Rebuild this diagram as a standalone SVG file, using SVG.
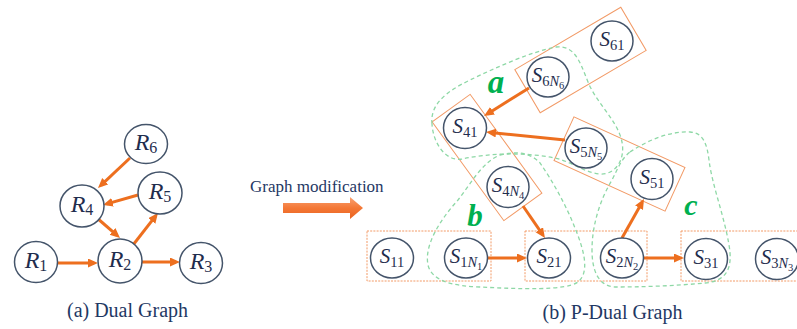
<svg xmlns="http://www.w3.org/2000/svg" width="797" height="329" viewBox="0 0 797 329">
  <style>
    .node { fill: #ffffff; stroke: #44546A; stroke-width: 1.5; }
    .lbl { font-family: 'Liberation Serif', serif; font-style: italic; font-size: 24px; fill: #1F2D4D; text-anchor: middle; }
    .lblS { font-size: 21px; }
    .sub { font-size: 14.5px; }
    .subR { font-size: 16px; }
    .sub2 { font-size: 10.5px; }
    .up { font-style: normal; }
    .edge { stroke: #ED6F1F; stroke-width: 3; fill: none; marker-end: url(#head); }
    .box { fill: none; stroke: #F29A66; stroke-width: 1; }
    .boxd { fill: none; stroke: #F29A66; stroke-width: 1; stroke-dasharray: 2 1.2; }
    .blob { fill: none; stroke: #8ED8A6; stroke-width: 1.3; stroke-dasharray: 4 3; }
    .tag { font-family: 'Liberation Serif', serif; font-style: italic; font-weight: bold; fill: #00B050; text-anchor: middle; }
    .cap { font-family: 'Liberation Serif', serif; font-size: 20px; fill: #1F3864; text-anchor: middle; }
  </style>
  <defs>
    <marker id="head" markerUnits="userSpaceOnUse" markerWidth="11" markerHeight="10" refX="6" refY="4.5" orient="auto">
      <path d="M0,0 L10,4.5 L0,9 Z" fill="#ED6F1F"/>
    </marker>
    <linearGradient id="bigArrow" x1="0" y1="0" x2="0" y2="1">
      <stop offset="0" stop-color="#F9A173"/>
      <stop offset="0.5" stop-color="#F47836"/>
      <stop offset="1" stop-color="#E9621F"/>
    </linearGradient>
  </defs>

  <!-- groupings: orange partition boxes -->
  <g id="partitions">
    <rect class="boxd" x="367" y="231" width="124" height="50"/>
    <rect class="boxd" x="525" y="231" width="122" height="50"/>
    <rect class="boxd" x="681" y="231" width="130" height="50"/>
    <rect class="box" x="-61.5" y="-25" width="123" height="50" transform="translate(580.5 60) rotate(-30.5)"/>
    <rect class="box" x="-61" y="-23.5" width="122" height="47" transform="translate(487 157.5) rotate(54)"/>
    <rect class="box" x="-61" y="-24" width="122" height="48" transform="translate(619.5 164) rotate(24.5)"/>
  </g>

  <!-- green dashed clusters -->
  <g id="clusters">
    <path class="blob" d="M432,124 C430,105 445,92 470,80 C495,68 530,52 556,47 C575,45 580,62 588,82 C596,102 615,118 621,138 C627,158 616,175 600,174 C585,173 575,163 555,158 C525,152 490,153 462,159 C445,162 433,142 432,124 Z"/>
    <path class="blob" d="M500,155 C515,151 530,152 540,163 C552,180 566,205 575,228 C584,250 590,272 578,282 C565,291 520,289 480,287 C455,286 432,282 428,265 C424,245 440,220 458,200 C470,185 482,162 500,155 Z"/>
    <path class="blob" d="M630,152 C648,140 670,131 690,132 C704,133 707,145 709,160 C712,185 724,215 729,245 C733,268 727,281 705,283 C675,286 640,287 615,287 C598,286 592,270 592,250 C592,225 600,200 612,180 C618,168 622,158 630,152 Z"/>
    <text class="tag" x="496" y="93" font-size="33">a</text>
    <text class="tag" x="475" y="226" font-size="31">b</text>
    <text class="tag" x="691" y="215" font-size="30">c</text>
  </g>

  <!-- connectors -->
  <g id="connectors">
    <line class="edge" x1="58" y1="263" x2="94" y2="263"/>
    <line class="edge" x1="142" y1="262" x2="176" y2="262"/>
    <line class="edge" x1="97" y1="218" x2="117" y2="235.4"/>
    <line class="edge" x1="133" y1="245" x2="155.5" y2="216.2"/>
    <line class="edge" x1="138" y1="195" x2="106.8" y2="203.9"/>
    <line class="edge" x1="130" y1="158" x2="100.9" y2="185.3"/>

    <line class="edge" x1="488" y1="258" x2="523" y2="258"/>
    <line class="edge" x1="644" y1="258" x2="680" y2="258"/>
    <line class="edge" x1="523" y1="206" x2="542.7" y2="234.7"/>
    <line class="edge" x1="622" y1="238" x2="642" y2="202.5"/>
    <line class="edge" x1="565" y1="140" x2="490" y2="132.4"/>
    <line class="edge" x1="529" y1="88" x2="487.4" y2="113.9"/>
  </g>

  <!-- (a) dual graph nodes -->
  <g id="R1"><ellipse class="node" cx="36" cy="262" rx="21.5" ry="20.5"/><text class="lbl" x="36" y="268">R<tspan class="subR up" dy="3">1</tspan></text></g>
  <g id="R2"><ellipse class="node" cx="120" cy="261" rx="22" ry="22"/><text class="lbl" x="120" y="267">R<tspan class="subR up" dy="3">2</tspan></text></g>
  <g id="R3"><ellipse class="node" cx="201" cy="263" rx="21.5" ry="20.5"/><text class="lbl" x="201" y="269">R<tspan class="subR up" dy="3">3</tspan></text></g>
  <g id="R4"><ellipse class="node" cx="82" cy="206" rx="22" ry="21"/><text class="lbl" x="82" y="212">R<tspan class="subR up" dy="3">4</tspan></text></g>
  <g id="R5"><ellipse class="node" cx="160" cy="193" rx="22" ry="21"/><text class="lbl" x="160" y="199">R<tspan class="subR up" dy="3">5</tspan></text></g>
  <g id="R6"><ellipse class="node" cx="146" cy="144" rx="21.5" ry="19.5"/><text class="lbl" x="146" y="150">R<tspan class="subR up" dy="3">6</tspan></text></g>

  <!-- (b) P-dual graph nodes -->
  <g id="S11"><ellipse class="node" cx="392" cy="258" rx="21.5" ry="20"/><text class="lbl lblS" x="392" y="263">S<tspan class="sub up" dy="4">11</tspan></text></g>
  <g id="S1N1"><ellipse class="node" cx="466" cy="258" rx="21.5" ry="20"/><text class="lbl lblS" x="466" y="263">S<tspan class="sub up" dy="4">1</tspan><tspan class="sub">N</tspan><tspan class="sub2 up" dy="3">1</tspan></text></g>
  <g id="S21"><ellipse class="node" cx="549" cy="258" rx="21.5" ry="20"/><text class="lbl lblS" x="549" y="263">S<tspan class="sub up" dy="4">21</tspan></text></g>
  <g id="S2N2"><ellipse class="node" cx="622" cy="258" rx="21.5" ry="20"/><text class="lbl lblS" x="622" y="263">S<tspan class="sub up" dy="4">2</tspan><tspan class="sub">N</tspan><tspan class="sub2 up" dy="3">2</tspan></text></g>
  <g id="S31"><ellipse class="node" cx="706" cy="259" rx="21.5" ry="20.5"/><text class="lbl lblS" x="706" y="264">S<tspan class="sub up" dy="4">31</tspan></text></g>
  <g id="S3N3"><ellipse class="node" cx="777" cy="259" rx="21.5" ry="20.5"/><text class="lbl lblS" x="777" y="264">S<tspan class="sub up" dy="4">3</tspan><tspan class="sub">N</tspan><tspan class="sub2 up" dy="3">3</tspan></text></g>
  <g id="S41"><ellipse class="node" cx="465" cy="128" rx="21.5" ry="20.5"/><text class="lbl lblS" x="465" y="133">S<tspan class="sub up" dy="4">41</tspan></text></g>
  <g id="S4N4"><ellipse class="node" cx="508" cy="187" rx="21" ry="20.5"/><text class="lbl lblS" x="508" y="192">S<tspan class="sub up" dy="4">4</tspan><tspan class="sub">N</tspan><tspan class="sub2 up" dy="3">4</tspan></text></g>
  <g id="S5N5"><ellipse class="node" cx="586" cy="148" rx="21" ry="20"/><text class="lbl lblS" x="586" y="153">S<tspan class="sub up" dy="4">5</tspan><tspan class="sub">N</tspan><tspan class="sub2 up" dy="3">5</tspan></text></g>
  <g id="S51"><ellipse class="node" cx="652" cy="179" rx="21" ry="20.5"/><text class="lbl lblS" x="652" y="184">S<tspan class="sub up" dy="4">51</tspan></text></g>
  <g id="S6N6"><ellipse class="node" cx="548" cy="77" rx="21" ry="20"/><text class="lbl lblS" x="548" y="82">S<tspan class="sub up" dy="4">6</tspan><tspan class="sub">N</tspan><tspan class="sub2 up" dy="3">6</tspan></text></g>
  <g id="S61"><ellipse class="node" cx="612" cy="41" rx="21" ry="20"/><text class="lbl lblS" x="612" y="46">S<tspan class="sub up" dy="4">61</tspan></text></g>

  <!-- transformation arrow -->
  <g id="modification">
    <text x="250" y="192" font-family="'Liberation Serif', serif" font-size="17" fill="#1F3864">Graph modification</text>
    <path d="M283,203 L350,203 L350,197 L363,208 L350,219 L350,213 L283,213 Z" fill="url(#bigArrow)"/>
  </g>

  <!-- captions -->
  <text class="cap" x="127.5" y="317">(a) Dual Graph</text>
  <text class="cap" x="612.5" y="319">(b) P-Dual Graph</text>
</svg>
